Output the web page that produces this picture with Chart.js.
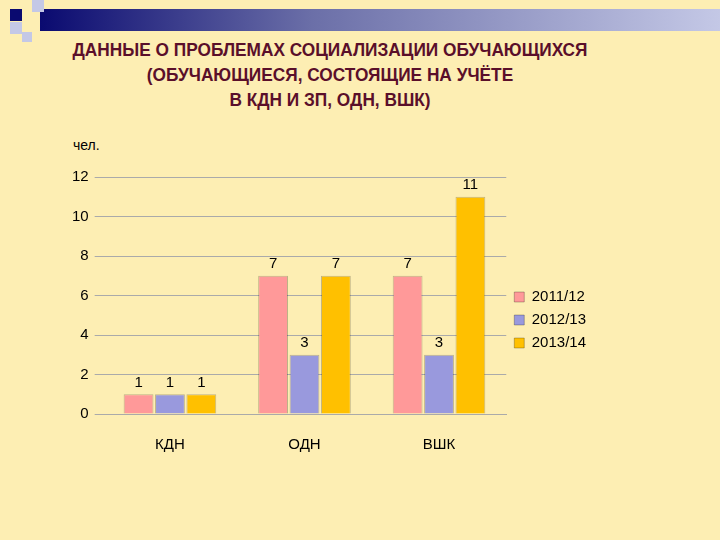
<!DOCTYPE html>
<html>
<head>
<meta charset="utf-8">
<script src="https://cdn.jsdelivr.net/npm/chart.js@4"></script>
<style>
  body { margin: 0; width: 720px; height: 540px; background: #fdeeb3; position: relative; overflow: hidden; font-family: "Liberation Sans", Arial, sans-serif; }
  .bar { position: absolute; left: 40px; top: 9px; width: 680px; height: 22px; background: linear-gradient(to right, #0a0a70, #6b6fa8 40%, #c4c8e6); }
  .sq { position: absolute; }
  h1 { position: absolute; margin: 0; top: 38px; left: 0; width: 660px; text-align: center; font-size: 18px; line-height: 25px; color: #5a0f2a; font-weight: bold; transform: scaleX(0.96); }
  .unit { position: absolute; left: 73px; top: 137px; font-size: 14px; color: #000; }
  #wrap { position: absolute; left: 66px; top: 162px; width: 590px; height: 320px; }
</style>
</head>
<body>
<div class="bar"></div>
<div class="sq" style="left:10px;top:9px;width:12px;height:12px;background:#0a0a70"></div>
<div class="sq" style="left:32px;top:0px;width:12px;height:12px;background:#c4c8e6"></div>
<div class="sq" style="left:10px;top:22px;width:12px;height:12px;background:#c4c8e6"></div>
<div class="sq" style="left:22px;top:32px;width:10px;height:10px;background:#c4c8e6"></div>
<h1>ДАННЫЕ О ПРОБЛЕМАХ СОЦИАЛИЗАЦИИ ОБУЧАЮЩИХСЯ<br>(ОБУЧАЮЩИЕСЯ, СОСТОЯЩИЕ НА УЧЁТЕ<br>В КДН И ЗП, ОДН, ВШК)</h1>
<div class="unit">чел.</div>
<div id="wrap"><canvas id="myChart"></canvas></div>
<script>
const categories = ['КДН', 'ОДН', 'ВШК'];
const seriesNames = ['2011/12', '2012/13', '2013/14'];
const values2011 = [1, 7, 7];
const values2012 = [1, 3, 3];
const values2013 = [1, 7, 11];
const yTicks = [0, 2, 4, 6, 8, 10, 12];

const colors = ['#ff9999', '#9999dd', '#ffc000'];

// подписи значений над столбцами
const valueLabels = {
  id: 'valueLabels',
  afterDatasetsDraw(chart) {
    const ctx = chart.ctx;
    ctx.save();
    ctx.font = '15px "Liberation Sans", Arial, sans-serif';
    ctx.fillStyle = '#000';
    ctx.textAlign = 'center';
    ctx.textBaseline = 'bottom';
    chart.data.datasets.forEach((ds, i) => {
      chart.getDatasetMeta(i).data.forEach((bar, j) => {
        ctx.fillText(ds.data[j], bar.x, bar.y - 4);
      });
    });
    ctx.restore();
  }
};

const ctx = document.getElementById('myChart').getContext('2d');
new Chart(ctx, {
  type: 'bar',
  data: {
    labels: categories,
    datasets: [values2011, values2012, values2013].map((d, i) => ({
      label: seriesNames[i],
      data: d,
      backgroundColor: colors[i],
      borderColor: 'rgba(0,0,0,0.25)',
      borderWidth: 1,
      categoryPercentage: 0.7,
      barPercentage: 0.95
    }))
  },
  options: {
    responsive: true,
    maintainAspectRatio: false,
    animation: false,
    layout: { padding: { top: 10, right: 60, bottom: 14 } },
    plugins: {
      legend: {
        position: 'right',
        labels: { color: '#000', font: { size: 15 }, boxWidth: 10, boxHeight: 10, padding: 8 }
      },
      tooltip: { enabled: false }
    },
    scales: {
      x: {
        grid: { display: false },
        border: { color: '#aaa' },
        ticks: { color: '#000', font: { size: 15 }, padding: 14 }
      },
      y: {
        min: 0, max: 12,
        afterBuildTicks: axis => { axis.ticks = yTicks.map(v => ({ value: v })); },
        grid: { color: '#aaa' },
        border: { display: false },
        ticks: { color: '#000', font: { size: 15 }, padding: 6 }
      }
    }
  },
  plugins: [valueLabels]
});
</script>
</body>
</html>
